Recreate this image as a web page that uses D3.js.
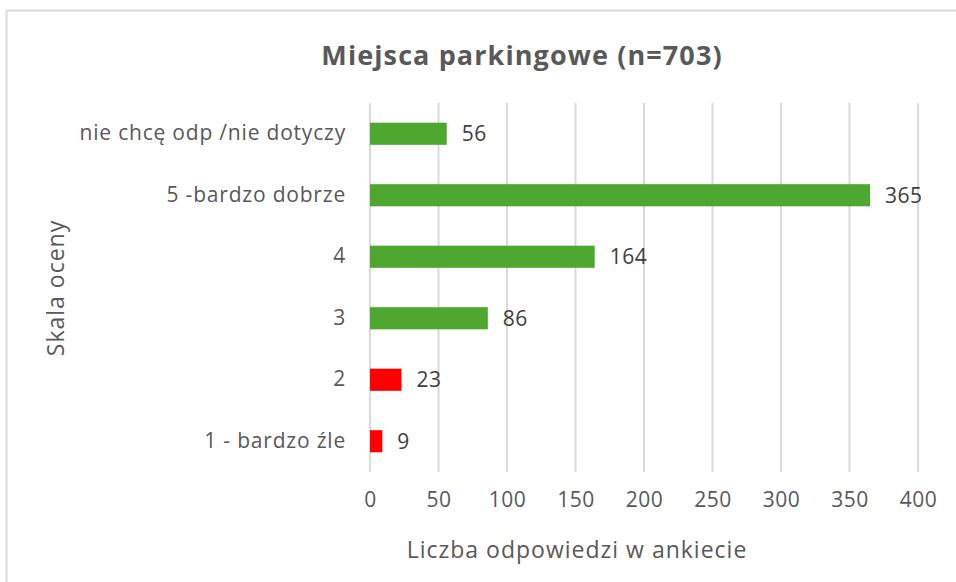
<!DOCTYPE html>
<html>
<head>
<meta charset="utf-8">
<script src="https://cdn.jsdelivr.net/npm/d3@7"></script>
<style>
	body { margin: 0; background: #fff; }
	svg text { font-family: "Open Sans", "Liberation Sans", sans-serif; }
</style>
</head>
<body>
<div id="chart"></div>
<script>
// data
var categories = ['nie chcę odp /nie dotyczy', '5 -bardzo dobrze', '4', '3', '2', '1 - bardzo źle'];
var counts = [56, 365, 164, 86, 23, 9];
var barColors = ['#4ea72e', '#4ea72e', '#4ea72e', '#4ea72e', '#ff0000', '#ff0000'];
var xTicks = [0, 50, 100, 150, 200, 250, 300, 350, 400];

var width = 956, height = 582;
var margin = {top: 103, right: 38, bottom: 110, left: 370};

var svg = d3.select('#chart')
	.append('svg')
	.attr('width', width)
	.attr('height', height);

// outer chart frame (right/bottom run off the picture)
svg.append('path')
	.attr('d', 'M6.5,' + height + 'V10.5H' + width)
	.attr('fill', 'none')
	.attr('stroke', '#d9d9d9')
	.attr('stroke-width', 2);

var x = d3.scaleLinear()
	.domain([0, 400])
	.range([margin.left, width - margin.right]);

var y = d3.scaleBand()
	.domain(categories)
	.range([margin.top, height - margin.bottom])
	.paddingInner(0.64)
	.paddingOuter(0.32);

// gridlines
svg.append('g')
	.selectAll('line')
	.data(xTicks)
	.enter()
	.append('line')
	.attr('x1', function (d) { return x(d); })
	.attr('x2', function (d) { return x(d); })
	.attr('y1', margin.top)
	.attr('y2', height - margin.bottom)
	.attr('stroke', '#d9d9d9')
	.attr('stroke-width', 2);

// x tick labels
var xAxis = svg.append('g')
	.attr('transform', 'translate(0,' + (height - margin.bottom) + ')')
	.call(d3.axisBottom(x).tickValues(xTicks).tickSize(0).tickPadding(20));
xAxis.select('.domain').remove();
xAxis.selectAll('text')
	.attr('font-size', 21)
	.attr('letter-spacing', 0.5)
	.attr('fill', '#595959');

// y category labels
var yAxis = svg.append('g')
	.attr('transform', 'translate(' + margin.left + ',0)')
	.call(d3.axisLeft(y).tickSize(0).tickPadding(24));
yAxis.select('.domain').remove();
yAxis.selectAll('text')
	.attr('font-size', 21)
	.attr('letter-spacing', 0.8)
	.attr('fill', '#595959');

// bars
svg.append('g')
	.selectAll('rect')
	.data(counts)
	.enter()
	.append('rect')
	.attr('x', x(0))
	.attr('y', function (d, i) { return y(categories[i]); })
	.attr('width', function (d) { return x(d) - x(0); })
	.attr('height', y.bandwidth())
	.attr('fill', function (d, i) { return barColors[i]; });

// value labels
svg.append('g')
	.selectAll('text')
	.data(counts)
	.enter()
	.append('text')
	.attr('x', function (d) { return x(d) + 15; })
	.attr('y', function (d, i) { return y(categories[i]) + y.bandwidth() / 2; })
	.attr('dy', '0.35em')
	.attr('font-size', 21)
	.attr('letter-spacing', 0.5)
	.attr('fill', '#404040')
	.text(function (d) { return d; });

// title
svg.append('text')
	.attr('x', 522)
	.attr('y', 65)
	.attr('text-anchor', 'middle')
	.attr('font-size', 27)
	.attr('font-weight', 'bold')
	.attr('letter-spacing', 1.1)
	.attr('fill', '#595959')
	.text('Miejsca parkingowe (n=703)');

// axis titles
svg.append('text')
	.attr('x', 577)
	.attr('y', 558)
	.attr('text-anchor', 'middle')
	.attr('font-size', 23)
	.attr('letter-spacing', 1)
	.attr('fill', '#595959')
	.text('Liczba odpowiedzi w ankiecie');

svg.append('text')
	.attr('transform', 'translate(64,288) rotate(-90)')
	.attr('text-anchor', 'middle')
	.attr('font-size', 23)
	.attr('letter-spacing', 1)
	.attr('fill', '#595959')
	.text('Skala oceny');
</script>
</body>
</html>
